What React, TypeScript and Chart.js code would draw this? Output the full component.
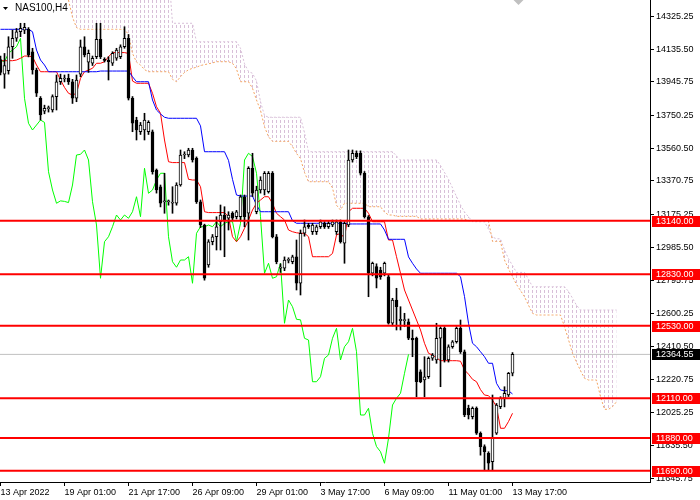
import React, { useEffect, useRef } from "react";
import { Chart, registerables } from "chart.js";

Chart.register(...registerables);

const symbol = "NAS100,H4";

const opens = [
  14075, 13990, 14010, 14149, 14198, 14236, 14245, 14250, 14120, 14014,
  13850, 13775, 13790, 13782, 13860, 13946, 13962, 13966, 13946, 13850,
  13990, 14149, 14060, 14053, 14091, 14192, 14075, 14072, 14053, 14082,
  14091, 14149, 14198, 13850, 13724, 13656, 13666, 13656, 13656, 13434,
  13337, 13250, 13250, 13241, 13241, 13347, 13521, 13521, 13550, 13502,
  13250, 13115, 12883, 13018, 13047, 13134, 13173, 13154, 13183, 13163,
  13163, 13279, 13183, 13444, 13192, 13318, 13318, 13308, 13415, 13047,
  12864, 12864, 12910, 12902, 12931, 12777, 13067, 13115, 13076, 13076,
  13105, 13125, 13105, 13115, 13076, 13134, 13009, 13115, 13492, 13531,
  13531, 13415, 13163, 12835, 12874, 12854, 12835, 12815, 12545, 12680,
  12560, 12560, 12554, 12458, 12458, 12264, 12216, 12235, 12342, 12332,
  12458, 12516, 12332, 12409, 12438, 12516, 12380, 12052, 12003, 12052,
  11907, 11830, 11791, 11743, 11907, 12061, 12110, 12129, 12255,
];
const highs = [
  14095, 14110, 14207, 14246, 14255, 14285, 14285, 14260, 14140, 14025,
  13860, 13810, 13805, 13870, 13985, 13990, 13985, 13990, 13960, 13985,
  14188, 14207, 14130, 14095, 14285, 14285, 14085, 14091, 14120, 14140,
  14160, 14265, 14220, 13860, 13740, 13710, 13763, 13720, 13666, 13440,
  13347, 13415, 13260, 13337, 13360, 13550, 13540, 13560, 13560, 13510,
  13260, 13120, 13030, 13060, 13163, 13231, 13221, 13192, 13192, 13200,
  13289, 13289, 13453, 13531, 13340, 13395, 13425, 13425, 13425, 13060,
  12890, 12930, 12925, 12940, 13028, 13086, 13144, 13125, 13125, 13115,
  13144, 13135, 13135, 13144, 13144, 13144, 13135, 13550, 13550, 13545,
  13545, 13425, 13170, 12900, 12890, 12870, 12900, 12825, 12690, 12748,
  12641, 12603, 12570, 12506, 12465, 12275, 12351, 12350, 12370, 12545,
  12525, 12525, 12420, 12445, 12525, 12564, 12390, 12070, 12060, 12060,
  11915, 11840, 11800, 12129, 12080, 12119, 12177, 12260, 12375,
];
const lows = [
  13985, 13908, 13990, 14082, 14180, 14207, 14225, 14090, 13990, 13860,
  13724, 13760, 13770, 13770, 13782, 13930, 13945, 13930, 13820, 13830,
  13975, 14090, 14000, 14040, 14080, 14080, 14060, 13956, 14040, 14070,
  14080, 14140, 13840, 13656, 13608, 13640, 13608, 13640, 13410, 13300,
  13220, 13183, 13230, 13183, 13230, 13340, 13500, 13510, 13480, 13240,
  13100, 12795, 12870, 13000, 12970, 12970, 12931, 13086, 13140, 13150,
  13144, 13105, 13028, 13280, 13180, 13300, 13289, 13300, 13040, 12890,
  12840, 12850, 12895, 12890, 12738, 12709, 13050, 13095, 13060, 13060,
  13095, 13095, 13095, 13105, 13060, 13010, 12893, 13105, 13480, 13500,
  13405, 13155, 12699, 12820, 12750, 12800, 12820, 12540, 12530, 12506,
  12506, 12525, 12450, 12351, 12119, 12200, 12119, 12225, 12330, 12313,
  12177, 12320, 12320, 12400, 12430, 12370, 12003, 11990, 11990, 11900,
  11780, 11694, 11694, 11694, 11900, 12050, 12060, 12120, 12240,
];
const closes = [
  14000, 14040, 14149, 14198, 14236, 14256, 14262, 14101, 14014, 13879,
  13753, 13792, 13795, 13860, 13946, 13966, 13966, 13946, 13850, 13956,
  14149, 14101, 14111, 14082, 14192, 14091, 14070, 14062, 14111, 14130,
  14149, 14198, 13850, 13705, 13666, 13695, 13724, 13710, 13424, 13318,
  13241, 13255, 13252, 13245, 13347, 13521, 13525, 13550, 13492, 13250,
  13115, 12806, 13018, 13047, 13105, 13173, 13144, 13173, 13154, 13192,
  13279, 13163, 13444, 13299, 13318, 13376, 13415, 13415, 13047, 12902,
  12870, 12912, 12912, 12931, 12777, 13067, 13105, 13105, 13115, 13105,
  13134, 13105, 13125, 13134, 13134, 13018, 13125, 13492, 13531, 13512,
  13415, 13163, 12835, 12893, 12806, 12815, 12893, 12545, 12680, 12641,
  12568, 12565, 12458, 12448, 12206, 12206, 12235, 12342, 12361, 12458,
  12516, 12332, 12409, 12438, 12516, 12380, 12013, 12013, 12052, 11907,
  11830, 11800, 11733, 11878, 12071, 12110, 12139, 12255, 12364.55,
];

// Ichimoku lines
const tenkan = [
  14068, 14068, 14068, 14068, 14072, 14082, 14095, 14095, 14091, 14043,
  14004, 14004, 14004, 14004, 14004, 13956, 13913, 13879, 13869, 13879,
  13966, 14004, 14014, 14024, 14053, 14053, 14062, 14091, 14115, 14115,
  14115, 14115, 14110, 13950, 13937, 13937, 13937, 13937, 13879, 13801,
  13763, 13608, 13482, 13477, 13477, 13477, 13477, 13380, 13376, 13376,
  13337, 13192, 13187, 13187, 13187, 13187, 13187, 13163, 13047, 13018,
  13047, 13096, 13144, 13202, 13241, 13260, 13279, 13279, 13240, 13183,
  13163, 13144, 13086, 13076, 13070, 13067, 13067, 13047, 12931, 12931,
  12931, 12931, 12931, 12950, 13057, 13067, 13038, 13192, 13212, 13212,
  13212, 13212, 13183, 13134, 13134, 13134, 13134, 13028, 13028, 12931,
  12835, 12738, 12680, 12622, 12564, 12506, 12429, 12371, 12361, 12345,
  12328, 12328, 12328, 12328, 12328, 12325, 12274, 12250, 12220, 12206,
  12160, 12129, 12125, 12100, 12061, 11936, 11936, 11975, 12023,
];
const kijun = [
  14250, 14250, 14250, 14250, 14250, 14250, 14250, 14250, 14236, 14130,
  14072, 14043, 14004, 14004, 14004, 14004, 14004, 14004, 14004, 14004,
  14004, 14004, 14004, 14004, 14004, 14008, 14008, 14008, 14008, 14008,
  14008, 14008, 14008, 13975, 13946, 13946, 13946, 13946, 13840, 13782,
  13759, 13740, 13734, 13734, 13734, 13734, 13734, 13734, 13734, 13734,
  13690, 13540, 13540, 13540, 13540, 13540, 13540, 13490, 13380, 13289,
  13283, 13283, 13283, 13283, 13231, 13192, 13192, 13192, 13192, 13192,
  13192, 13192, 13192, 13140, 13125, 13125, 13125, 13125, 13125, 13125,
  13125, 13125, 13125, 13125, 13125, 13125, 13125, 13121, 13121, 13121,
  13121, 13121, 13121, 13121, 13121, 13121, 13086, 13032, 13032, 13032,
  13032, 13032, 12930, 12893, 12860, 12835, 12835, 12835, 12835, 12835,
  12835, 12835, 12835, 12835, 12835, 12815, 12700, 12545, 12429, 12409,
  12380, 12351, 12313, 12313, 12197, 12158, 12154, 12154, 12135,
];
const spanA = [
  null, null, null, null, null, null, null, null, null, null,
  null, null, null, null, null, null, null, 14420, 14320, 14260,
  14250, 14250, 14250, 14250, 14250, 14250, 14250, 14250, 14250, 14250,
  14250, 14250, 14220, 14110, 14060, 14043, 14016, 14004, 14004, 14004,
  14004, 14004, 14004, 13960, 13946, 13975, 14000, 14015, 14024, 14030,
  14040, 14045, 14050, 14055, 14062, 14062, 14062, 14062, 14053, 14020,
  13946, 13946, 13946, 13908, 13840, 13780, 13685, 13627, 13600, 13600,
  13600, 13600, 13600, 13570, 13530, 13500, 13420, 13366, 13366, 13366,
  13366, 13366, 13366, 13330, 13230, 13202, 13241, 13241, 13241, 13241,
  13241, 13241, 13221, 13221, 13221, 13221, 13190, 13173, 13173, 13165,
  13165, 13165, 13165, 13165, 13165, 13150, 13150, 13150, 13150, 13150,
  13150, 13150, 13150, 13150, 13150, 13150, 13150, 13140, 13140, 13140,
  13140, 13140, 13140, 13020, 13020, 13020, 12912, 12860, 12815, 12770,
  12735, 12699, 12650, 12603, 12593, 12593, 12593, 12593, 12593, 12593,
  12593, 12525, 12450, 12371, 12320, 12270, 12226, 12216, 12216, 12216,
  12119, 12046, 12046, 12061, 12090,
];
const spanB = [
  null, null, null, null, null, null, null, null, null, null,
  null, null, null, null, null, null, null, 14600, 14600, 14600,
  14600, 14600, 14600, 14600, 14600, 14600, 14600, 14600, 14600, 14600,
  14600, 14600, 14600, 14600, 14600, 14600, 14600, 14600, 14600, 14600,
  14600, 14600, 14600, 14285, 14285, 14285, 14285, 14285, 14285, 14178,
  14178, 14178, 14178, 14178, 14178, 14178, 14178, 14178, 14178, 14178,
  14140, 14050, 14005, 13995, 13950, 13830, 13750, 13740, 13740, 13740,
  13740, 13740, 13740, 13740, 13740, 13740, 13650, 13540, 13540, 13540,
  13540, 13540, 13540, 13540, 13540, 13540, 13540, 13540, 13540, 13540,
  13540, 13540, 13540, 13540, 13540, 13540, 13540, 13540, 13540, 13515,
  13492, 13492, 13492, 13492, 13492, 13492, 13492, 13492, 13492, 13492,
  13460, 13420, 13380, 13330, 13280, 13231, 13190, 13163, 13134, 13134,
  13134, 13134, 13090, 13045, 13035, 13035, 12970, 12920, 12880, 12840,
  12840, 12840, 12800, 12757, 12757, 12757, 12757, 12757, 12757, 12757,
  12757, 12757, 12730, 12690, 12650, 12622, 12622, 12622, 12622, 12622,
  12622, 12622, 12622, 12622, 12622,
];
const chikouShift = 26;

const levels = [13140, 12830, 12530, 12110, 11880, 11690];
const lastPrice = 12364.55;

const yMin = 11624.4;
const yMax = 14420;
const yTicks = [
  14325.25, 14135.5, 13945.75, 13750.25, 13560.5, 13370.75, 13175.25,
  12985.5, 12795.75, 12600.25, 12410.5, 12220.75, 12025.25, 11835.5, 11645.75,
];
const xMin = -0.125;
const xMax = 162.375;
const xTickBars = [0, 16, 32, 48, 64, 80, 96, 112, 128];
const xTickLabels = [
  "13 Apr 2022", "19 Apr 01:00", "21 Apr 17:00", "26 Apr 09:00", "29 Apr 01:00",
  "3 May 17:00", "6 May 09:00", "11 May 01:00", "13 May 17:00",
];
const shiftMarkBar = 129.5;

const FONT = '"Liberation Sans", Arial, sans-serif';

const overlayPlugin = {
  id: "mtOverlay",
  afterDraw(chart: any) {
    const ctx: CanvasRenderingContext2D = chart.ctx;
    const ys = chart.scales.y;
    const xs = chart.scales.x;
    const right = chart.chartArea.right;
    ctx.save();
    ctx.font = `9px ${FONT}`;
    ctx.textBaseline = "middle";
    ctx.textAlign = "left";
    levels.forEach((v) => {
      const py = Math.round(ys.getPixelForValue(v));
      ctx.fillStyle = "#ff0000";
      ctx.fillRect(right + 2, py - 5, 700 - right - 2, 11);
      ctx.fillStyle = "#ffffff";
      ctx.fillText(v.toFixed(2), right + 6, py + 0.5);
    });
    const pp = Math.round(ys.getPixelForValue(lastPrice));
    ctx.fillStyle = "#000000";
    ctx.fillRect(right + 2, pp - 5, 700 - right - 2, 11);
    ctx.fillStyle = "#ffffff";
    ctx.fillText(lastPrice.toFixed(2), right + 6, pp + 0.5);

    // title
    ctx.fillStyle = "#000000";
    ctx.beginPath();
    ctx.moveTo(3, 7);
    ctx.lineTo(8, 7);
    ctx.lineTo(5.5, 10);
    ctx.closePath();
    ctx.fill();
    ctx.font = `10px ${FONT}`;
    ctx.fillText(symbol, 15, 8);

    // chart shift marker
    const mx = xs.getPixelForValue(shiftMarkBar);
    ctx.fillStyle = "#c0c0c0";
    ctx.beginPath();
    ctx.moveTo(mx - 5, 0);
    ctx.lineTo(mx + 5, 0);
    ctx.lineTo(mx, 5);
    ctx.closePath();
    ctx.fill();
    ctx.restore();
  },
};

export default function App() {
  const ref = useRef<HTMLCanvasElement | null>(null);

  useEffect(() => {
    const canvas = ref.current!;
    const ctx = canvas.getContext("2d")!;
    const pc = document.createElement("canvas");
    pc.width = 4;
    pc.height = 5;
    const pctx = pc.getContext("2d")!;
    pctx.fillStyle = "#D8BFD8";
    pctx.fillRect(0, 0, 1, 3);
    const pattern = ctx.createPattern(pc, "repeat");

    const idx = closes.map((_, i) => i);
    const lineBase = {
      type: "line" as const,
      pointRadius: 0,
      pointHoverRadius: 0,
      borderWidth: 1,
      tension: 0,
      fill: false,
    };

    const datasets: any[] = [
      {
        ...lineBase,
        label: "spanA",
        data: spanA.map((v, i) => ({ x: i, y: v })),
        borderColor: "#F4A460",
        borderDash: [2, 2],
        order: 11,
      },
      {
        ...lineBase,
        label: "spanB",
        data: spanB.map((v, i) => ({ x: i, y: v })),
        borderColor: "#D8BFD8",
        borderDash: [2, 2],
        backgroundColor: pattern,
        fill: "-1",
        order: 12,
      },
      {
        ...lineBase,
        label: "price",
        data: [
          { x: xMin - 5, y: lastPrice },
          { x: xMax + 5, y: lastPrice },
        ],
        borderColor: "#C0C0C0",
        order: 10,
      },
      {
        ...lineBase,
        label: "chikou",
        data: closes.slice(chikouShift).map((v, k) => ({ x: k, y: v })),
        borderColor: "#00FF00",
        order: 9,
      },
      {
        ...lineBase,
        label: "tenkan",
        data: tenkan.map((v, i) => ({ x: i, y: v })),
        borderColor: "#FF0000",
        order: 8,
      },
      {
        ...lineBase,
        label: "kijun",
        data: kijun.map((v, i) => ({ x: i, y: v })),
        borderColor: "#0000FF",
        order: 7,
      },
      {
        type: "bar",
        label: "wicks",
        data: idx.map((i) => ({ x: i, y: [lows[i], highs[i]] })),
        backgroundColor: "#000000",
        borderWidth: 0,
        barThickness: 1,
        grouped: false,
        order: 4,
      },
      {
        type: "bar",
        label: "bodies",
        data: idx.map((i) => ({ x: i, y: [opens[i], closes[i]] })),
        backgroundColor: idx.map((i) => (closes[i] >= opens[i] ? "#ffffff" : "#000000")),
        borderColor: "#000000",
        borderWidth: 1,
        borderSkipped: false,
        barThickness: 3,
        minBarLength: 1,
        grouped: false,
        order: 3,
      },
      ...levels.map((v) => ({
        ...lineBase,
        label: "level " + v,
        data: [
          { x: xMin - 5, y: v },
          { x: xMax + 5, y: v },
        ],
        borderColor: "#FF0000",
        borderWidth: 2,
        order: 1,
      })),
    ];

    const font = { family: FONT, size: 9 };

    const chart = new Chart(ctx, {
      type: "bar",
      data: { datasets },
      options: {
        animation: false,
        responsive: false,
        maintainAspectRatio: false,
        events: [],
        layout: { padding: 0 },
        plugins: {
          legend: { display: false },
          tooltip: { enabled: false },
        },
        scales: {
          x: {
            type: "linear",
            position: "bottom",
            min: xMin,
            max: xMax,
            offset: false,
            border: { display: true, color: "#000000", width: 1 },
            grid: {
              display: true,
              drawOnChartArea: false,
              drawTicks: true,
              tickLength: 4,
              color: "#000000",
              offset: false,
            },
            ticks: {
              color: "#000000",
              font,
              padding: 1,
              align: "start",
              autoSkip: false,
              maxRotation: 0,
              minRotation: 0,
              callback: (_v: any, index: number) => xTickLabels[index] ?? "",
            },
            afterBuildTicks: (s: any) => {
              s.ticks = xTickBars.map((v) => ({ value: v }));
            },
            afterFit: (s: any) => {
              s.height = 18;
              s.paddingLeft = 0;
              s.paddingRight = 0;
              s.paddingTop = 0;
              s.paddingBottom = 0;
            },
          },
          y: {
            type: "linear",
            position: "right",
            min: yMin,
            max: yMax,
            border: { display: true, color: "#000000", width: 1 },
            grid: {
              display: true,
              drawOnChartArea: false,
              drawTicks: true,
              tickLength: 4,
              color: "#000000",
            },
            ticks: {
              color: "#000000",
              font,
              padding: 2,
              autoSkip: false,
              callback: (v: any) => Number(v).toFixed(2),
            },
            afterBuildTicks: (s: any) => {
              s.ticks = yTicks.map((v) => ({ value: v }));
            },
            afterFit: (s: any) => {
              s.width = 50;
              s.paddingTop = 0;
              s.paddingBottom = 0;
              s.paddingLeft = 0;
              s.paddingRight = 0;
            },
          },
        },
      } as any,
      plugins: [overlayPlugin],
    });

    return () => chart.destroy();
  }, []);

  return (
    <div
      style={{
        position: "fixed",
        left: 0,
        top: 0,
        width: 700,
        height: 500,
        background: "#ffffff",
      }}
    >
      <canvas
        ref={ref}
        width={700}
        height={500}
        style={{ display: "block", width: 700, height: 500 }}
      />
    </div>
  );
}
